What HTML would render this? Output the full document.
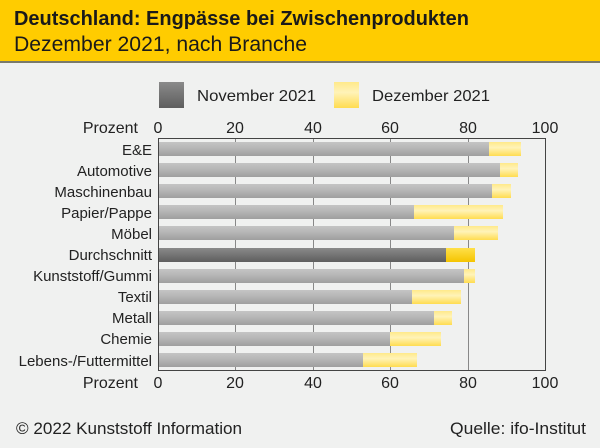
<!DOCTYPE html>
<html><head><meta charset="utf-8"><style>
html,body{margin:0;padding:0;}
body{width:600px;height:443px;overflow:hidden;background:#f0f1f0;font-family:"Liberation Sans",sans-serif;}
</style></head><body>
<svg width="600" height="443" xmlns="http://www.w3.org/2000/svg" font-family="Liberation Sans, sans-serif">
<defs>
<linearGradient id="g" x1="0" y1="0" x2="0" y2="1"><stop offset="0" stop-color="#c4c4c4"/><stop offset="0.4" stop-color="#b8b8b8"/><stop offset="1" stop-color="#9e9e9e"/></linearGradient>
<linearGradient id="gd" x1="0" y1="0" x2="0" y2="1"><stop offset="0" stop-color="#8a8a8a"/><stop offset="1" stop-color="#5e5e5e"/></linearGradient>
<linearGradient id="y" x1="0" y1="0" x2="0" y2="1"><stop offset="0" stop-color="#ffe98a"/><stop offset="0.4" stop-color="#fff3b8"/><stop offset="1" stop-color="#ffdc50"/></linearGradient>
<linearGradient id="yd" x1="0" y1="0" x2="0" y2="1"><stop offset="0" stop-color="#ffe04a"/><stop offset="1" stop-color="#f5c400"/></linearGradient>
</defs>
<rect x="0" y="0" width="600" height="61" fill="#ffcc00"/>
<rect x="0" y="61" width="600" height="2" fill="#7a7a6a"/>
<text x="14" y="25" font-size="20" font-weight="bold" fill="#1a1a1a" textLength="455" lengthAdjust="spacingAndGlyphs">Deutschland: Engpässe bei Zwischenprodukten</text>
<text x="14" y="51" font-size="21" fill="#1a1a1a" textLength="293" lengthAdjust="spacingAndGlyphs">Dezember 2021, nach Branche</text>
<rect x="159" y="82" width="25" height="26" fill="url(#gd)"/>
<text x="197" y="101" font-size="16" fill="#222" textLength="119" lengthAdjust="spacingAndGlyphs">November 2021</text>
<rect x="334" y="82" width="25" height="26" fill="url(#y)"/>
<text x="372" y="101" font-size="16" fill="#222" textLength="118" lengthAdjust="spacingAndGlyphs">Dezember 2021</text>
<g font-size="16" fill="#222" text-anchor="middle">
<text x="158" y="133">0</text><text x="235" y="133">20</text><text x="313" y="133">40</text><text x="390" y="133">60</text><text x="468" y="133">80</text><text x="545" y="133">100</text>
<text x="158" y="388">0</text><text x="235" y="388">20</text><text x="313" y="388">40</text><text x="390" y="388">60</text><text x="468" y="388">80</text><text x="545" y="388">100</text>
</g>
<g font-size="16" fill="#222" text-anchor="end">
<text x="138" y="133">Prozent</text><text x="138" y="388">Prozent</text>
</g>
<g stroke="#888" stroke-width="1">
<line x1="235.5" y1="138" x2="235.5" y2="370"/><line x1="313.5" y1="138" x2="313.5" y2="370"/><line x1="390.5" y1="138" x2="390.5" y2="370"/><line x1="468.5" y1="138" x2="468.5" y2="370"/>
</g>
<rect x="158.5" y="138.5" width="387" height="232" fill="none" stroke="#444" stroke-width="1"/>
<g font-size="15" fill="#222" text-anchor="end">
<text x="152" y="155">E&amp;E</text>
<text x="152" y="176">Automotive</text>
<text x="152" y="197">Maschinenbau</text>
<text x="152" y="218">Papier/Pappe</text>
<text x="152" y="239">Möbel</text>
<text x="152" y="260">Durchschnitt</text>
<text x="152" y="281">Kunststoff/Gummi</text>
<text x="152" y="302">Textil</text>
<text x="152" y="323">Metall</text>
<text x="152" y="344">Chemie</text>
<text x="152" y="366">Lebens-/Futtermittel</text>
</g>
<g>
<rect x="159" y="142" width="330" height="14" fill="url(#g)"/><rect x="489" y="142" width="32" height="14" fill="url(#y)"/>
<rect x="159" y="163" width="341" height="14" fill="url(#g)"/><rect x="500" y="163" width="18" height="14" fill="url(#y)"/>
<rect x="159" y="184" width="333" height="14" fill="url(#g)"/><rect x="492" y="184" width="19" height="14" fill="url(#y)"/>
<rect x="159" y="205" width="255" height="14" fill="url(#g)"/><rect x="414" y="205" width="89" height="14" fill="url(#y)"/>
<rect x="159" y="226" width="295" height="14" fill="url(#g)"/><rect x="454" y="226" width="44" height="14" fill="url(#y)"/>
<rect x="159" y="248" width="287" height="14" fill="url(#gd)"/><rect x="446" y="248" width="29" height="14" fill="url(#yd)"/>
<rect x="159" y="269" width="305" height="14" fill="url(#g)"/><rect x="464" y="269" width="11" height="14" fill="url(#y)"/>
<rect x="159" y="290" width="253" height="14" fill="url(#g)"/><rect x="412" y="290" width="49" height="14" fill="url(#y)"/>
<rect x="159" y="311" width="275" height="14" fill="url(#g)"/><rect x="434" y="311" width="18" height="14" fill="url(#y)"/>
<rect x="159" y="332" width="231" height="14" fill="url(#g)"/><rect x="390" y="332" width="51" height="14" fill="url(#y)"/>
<rect x="159" y="353" width="204" height="14" fill="url(#g)"/><rect x="363" y="353" width="54" height="14" fill="url(#y)"/>
</g>
<text x="16" y="434" font-size="17" fill="#222" textLength="226" lengthAdjust="spacingAndGlyphs">© 2022 Kunststoff Information</text>
<text x="586" y="434" font-size="17" fill="#222" text-anchor="end" textLength="136" lengthAdjust="spacingAndGlyphs">Quelle: ifo-Institut</text>
</svg>
</body></html>
